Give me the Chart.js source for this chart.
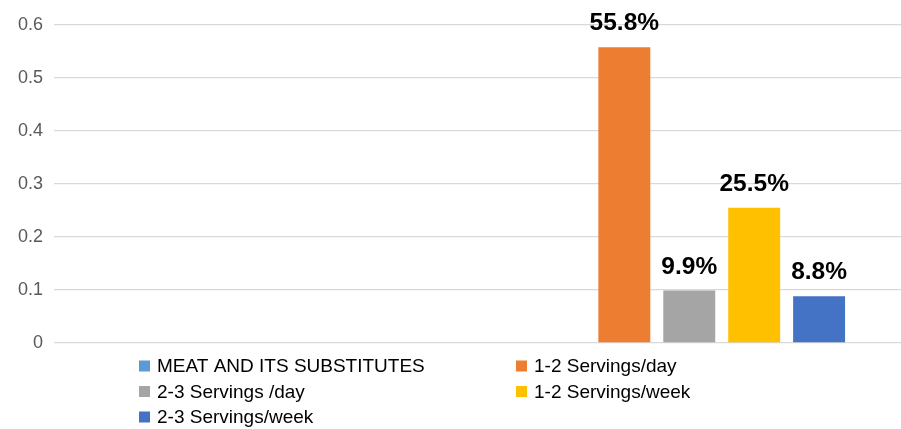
<!DOCTYPE html>
<html>
<head>
<meta charset="utf-8">
<script src="https://cdn.jsdelivr.net/npm/chart.js@4.4.1/dist/chart.umd.min.js"></script>
<style>
  html, body { margin: 0; padding: 0; background: #ffffff; }
  #wrap { width: 901px; height: 429px; position: relative; }
</style>
</head>
<body>
<div id="wrap"><canvas id="c"></canvas></div>
<script>
// ---- data ----
const categories = ['', ''];
const seriesNames = ['MEAT AND ITS SUBSTITUTES', '1-2 Servings/day', '2-3 Servings /day', '1-2 Servings/week', '2-3 Servings/week'];
const meatValues = [null, null];
const servings12DayValues = [null, 0.558];
const servings23DayValues = [null, 0.099];
const servings12WeekValues = [null, 0.255];
const servings23WeekValues = [null, 0.088];
const yTickValues = [0, 0.1, 0.2, 0.3, 0.4, 0.5, 0.6];
const seriesColors = ['#5B9BD5', '#ED7D31', '#A5A5A5', '#FFC000', '#4472C4'];

const allValues = [meatValues, servings12DayValues, servings23DayValues, servings12WeekValues, servings23WeekValues];

const valueLabelPlugin = {
  id: 'valueLabels',
  afterDatasetsDraw(chart) {
    const ctx = chart.ctx;
    ctx.save();
    ctx.font = 'bold 24.5px "Liberation Sans", Arial, sans-serif';
    ctx.fillStyle = '#000000';
    ctx.textAlign = 'center';
    ctx.textBaseline = 'alphabetic';
    chart.data.datasets.forEach((ds, i) => {
      const meta = chart.getDatasetMeta(i);
      meta.data.forEach((bar, j) => {
        const v = ds.data[j];
        if (v === null || v === undefined) return;
        ctx.fillText((v * 100).toFixed(1) + '%', bar.x, bar.y - 17);
      });
    });
    ctx.restore();
  }
};

const gridLegendPlugin = {
  id: 'gridLegend',
  afterDraw(chart) {
    const ctx = chart.ctx;
    const colX = [139, 516];
    const rowY0 = 366, rowH = 25.5, box = 11;
    ctx.save();
    ctx.font = '19px "Liberation Sans", Arial, sans-serif';
    ctx.textAlign = 'left';
    ctx.textBaseline = 'middle';
    chart.data.datasets.forEach((ds, i) => {
      const col = i % 2, row = Math.floor(i / 2);
      const x = colX[col], y = rowY0 + row * rowH;
      ctx.fillStyle = ds.backgroundColor;
      ctx.fillRect(x, y - box / 2, box, box);
      ctx.fillStyle = '#000000';
      ctx.fillText(ds.label, x + 18, y + 1);
    });
    ctx.restore();
  }
};

const datasets = seriesNames.map((name, i) => ({
  label: name,
  data: allValues[i],
  backgroundColor: seriesColors[i],
  borderWidth: 0,
  categoryPercentage: 0.7665,
  barPercentage: 0.8
}));

new Chart(document.getElementById('c'), {
  type: 'bar',
  data: { labels: categories, datasets },
  options: {
    responsive: true,
    maintainAspectRatio: false,
    animation: false,
    layout: { padding: { left: 7, right: 0, top: 25, bottom: 86 } },
    plugins: {
      legend: { display: false },
      tooltip: { enabled: false }
    },
    scales: {
      x: {
        display: true,
        grid: { display: false, drawTicks: false },
        border: { display: false },
        ticks: { display: false }
      },
      y: {
        min: 0,
        max: 0.6,
        afterBuildTicks(axis) { axis.ticks = yTickValues.map(v => ({ value: v })); },
        grid: { color: '#D9D9D9', lineWidth: 1.3, drawTicks: false },
        border: { display: false },
        ticks: {
          padding: 11,
          color: '#595959',
          font: { family: '"Liberation Sans", Arial, sans-serif', size: 18 },
          callback: v => String(Math.round(v * 10) / 10)
        }
      }
    }
  },
  plugins: [valueLabelPlugin, gridLegendPlugin]
});
</script>
</body>
</html>
